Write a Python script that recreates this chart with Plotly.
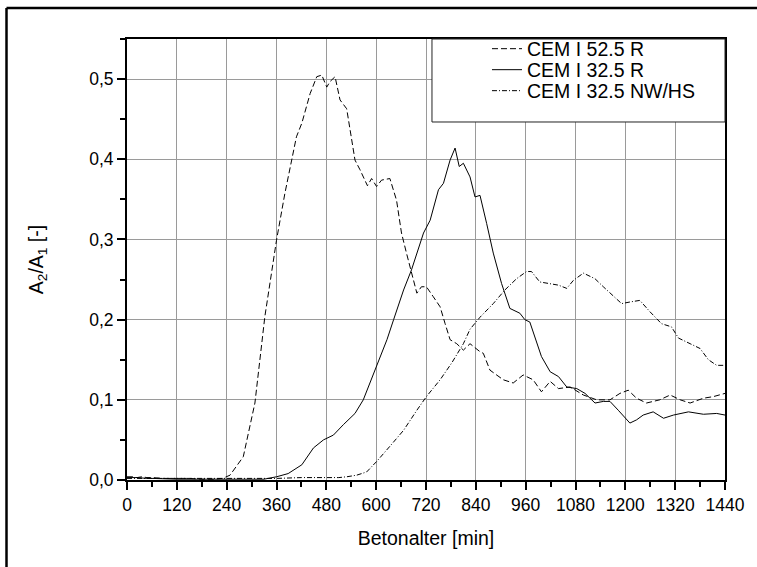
import plotly.graph_objects as go

# ---- data ----
t_525 = [0, 12, 24, 36, 48, 60, 90, 120, 150, 180, 210, 230, 248, 280, 308, 332, 360, 380, 397, 408,
         421, 441, 457, 469, 481, 489, 501, 513, 529, 549, 561, 579, 589, 601, 613, 633, 649, 661,
         673, 685, 698, 709, 721, 737, 754, 766, 778, 794, 810, 826, 850, 858, 874, 906, 930, 954,
         978, 998, 1019, 1039, 1067, 1099, 1131, 1163, 1187, 1207, 1227, 1251, 1283, 1308, 1332,
         1356, 1388, 1412, 1440]
v_525 = [0.004, 0.004, 0.003, 0.004, 0.003, 0.003, 0.002, 0.002, 0.002, 0.001, 0.001, 0.002, 0.006,
         0.029, 0.096, 0.204, 0.299, 0.357, 0.399, 0.428, 0.445, 0.482, 0.503, 0.505, 0.490, 0.497,
         0.503, 0.474, 0.463, 0.399, 0.387, 0.367, 0.376, 0.366, 0.374, 0.376, 0.349, 0.308, 0.283,
         0.258, 0.233, 0.241, 0.241, 0.229, 0.216, 0.195, 0.175, 0.170, 0.162, 0.170, 0.160, 0.158,
         0.137, 0.125, 0.121, 0.131, 0.125, 0.110, 0.123, 0.114, 0.116, 0.106, 0.100, 0.100, 0.108,
         0.112, 0.102, 0.096, 0.100, 0.106, 0.100, 0.096, 0.102, 0.104, 0.108]

t_325 = [0, 24, 48, 60, 120, 180, 240, 300, 330, 360, 388, 421, 449, 473, 497, 521, 549, 569, 601,
         626, 642, 666, 685, 714, 730, 750, 762, 778, 790, 800, 810, 826, 838, 850, 866, 882, 902,
         922, 946, 958, 970, 982, 998, 1019, 1039, 1059, 1083, 1103, 1127, 1147, 1163, 1183, 1211,
         1227, 1243, 1267, 1292, 1316, 1352, 1388, 1420, 1440]
v_325 = [0.003, 0.003, 0.002, 0.002, 0.001, 0.001, 0.001, 0.001, 0.001, 0.004, 0.008, 0.019, 0.040,
         0.050, 0.056, 0.069, 0.083, 0.100, 0.141, 0.175, 0.200, 0.237, 0.262, 0.308, 0.324, 0.362,
         0.370, 0.399, 0.414, 0.391, 0.395, 0.378, 0.353, 0.355, 0.320, 0.283, 0.245, 0.214, 0.208,
         0.200, 0.197, 0.179, 0.154, 0.135, 0.129, 0.116, 0.114, 0.108, 0.096, 0.098, 0.098, 0.087,
         0.071, 0.075, 0.081, 0.085, 0.077, 0.081, 0.085, 0.082, 0.083, 0.081]

t_nwhs = [0, 60, 120, 180, 240, 300, 360, 420, 480, 510, 529, 553, 577, 601, 633, 666, 698, 721, 754,
          782, 810, 826, 850, 882, 910, 938, 962, 974, 994, 1019, 1039, 1059, 1075, 1099, 1127, 1147,
          1171, 1191, 1211, 1235, 1259, 1287, 1311, 1328, 1356, 1380, 1400, 1420, 1440]
v_nwhs = [0.002, 0.002, 0.002, 0.002, 0.002, 0.002, 0.002, 0.003, 0.003, 0.003, 0.004, 0.006, 0.010,
          0.023, 0.042, 0.062, 0.087, 0.104, 0.125, 0.146, 0.170, 0.188, 0.203, 0.220, 0.237, 0.251,
          0.260, 0.260, 0.247, 0.245, 0.243, 0.239, 0.249, 0.258, 0.251, 0.241, 0.229, 0.220, 0.222,
          0.224, 0.210, 0.195, 0.191, 0.177, 0.170, 0.164, 0.150, 0.143, 0.143]

series_names = ["CEM I 52.5 R", "CEM I 32.5 R", "CEM I 32.5 NW/HS"]
x_ticks = [0, 120, 240, 360, 480, 600, 720, 840, 960, 1080, 1200, 1320, 1440]
x_title = "Betonalter [min]"
y_title = "A<sub>2</sub>/A<sub>1</sub> [-]"

FONT = "Arial, Liberation Sans, sans-serif"

fig = go.Figure()
styles = ["6px,3px", "solid", "5px,2px,1px,2px"]
legend_ids = ["legend", "legend2", "legend3"]
for name, xs, ys, dash, lg in zip(series_names, [t_525, t_325, t_nwhs], [v_525, v_325, v_nwhs],
                                  styles, legend_ids):
    fig.add_trace(go.Scatter(x=xs, y=ys, mode="lines", name=name, legend=lg,
                             line=dict(color="black", width=1, dash=dash)))

axis_common = dict(showline=True, linecolor="black", linewidth=2, mirror=True,
                   ticks="outside", ticklen=8, tickwidth=1.5, tickcolor="black",
                   showgrid=True, gridcolor="#9a9a9a", gridwidth=1, zeroline=False,
                   tickfont=dict(family=FONT, size=17.5, color="black"))

fig.update_xaxes(range=[0, 1440], tickvals=x_ticks, ticktext=[str(v) for v in x_ticks],
                 minor=dict(dtick=60, tick0=0, ticks="outside", ticklen=5, tickwidth=1.5,
                            tickcolor="black", showgrid=False),
                 title=dict(text=x_title, font=dict(family=FONT, size=19.5, color="black"), standoff=17),
                 **axis_common)
fig.update_yaxes(range=[0, 0.55], dtick=0.1, tick0=0, tickformat=".1f",
                 minor=dict(dtick=0.05, tick0=0, ticks="outside", ticklen=5, tickwidth=1.5,
                            tickcolor="black", showgrid=False),
                 title=dict(text=y_title, font=dict(family=FONT, size=19.5, color="black"), standoff=40),
                 **axis_common)

# legend box (white, covers gridlines) and outer frame lines
fig.add_shape(type="rect", xref="paper", yref="paper", x0=0.510, x1=1.0, y0=0.8118, y1=1.0,
              line=dict(color="#222222", width=1), fillcolor="white", layer="above")
fig.add_shape(type="line", xref="paper", yref="paper", x0=-0.2015, x1=-0.2015, y0=-0.3, y1=1.0703,
              line=dict(color="black", width=2.5))
fig.add_shape(type="line", xref="paper", yref="paper", x0=-0.2015, x1=1.1, y0=1.0703, y1=1.0703,
              line=dict(color="black", width=2.5))

leg_style = dict(x=0.602, xanchor="left", yanchor="middle", bgcolor="rgba(0,0,0,0)",
                 borderwidth=0, font=dict(family=FONT, size=19.5, color="black"))

fig.update_layout(
    width=757, height=567,
    margin=dict(l=127, r=32, t=39, b=87),
    paper_bgcolor="white", plot_bgcolor="white",
    separators=",.",
    font=dict(family=FONT, size=17.5, color="black"),
    showlegend=True,
    legend=dict(y=0.9773, **leg_style),
    legend2=dict(y=0.9297, **leg_style),
    legend3=dict(y=0.8821, **leg_style),
)

fig.write_html("out.html", config={"displayModeBar": False},
               post_script="document.body.style.margin='0px';")
